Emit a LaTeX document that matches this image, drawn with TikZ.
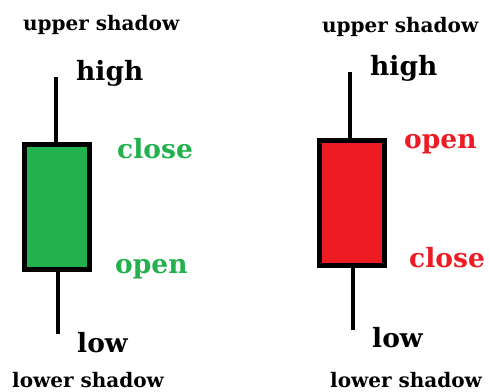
\documentclass[tikz,border=0pt]{standalone}
\usepackage{fontspec}
\setmainfont{DejaVu Serif}
\definecolor{bullgreen}{HTML}{22B14C}
\definecolor{bearred}{HTML}{ED1C24}
\begin{document}
\begin{tikzpicture}[x=1pt,y=-1pt,
  body/.style={rectangle,draw=black,line width=5pt,inner sep=0pt,
    minimum width=65pt,minimum height=125pt},
  wick/.style={line width=4.5pt,black},
  biglabel/.style={anchor=base west,inner sep=0pt,font=\fontsize{26.5}{28}\selectfont\bfseries},
  smalllabel/.style={anchor=base west,inner sep=0pt,font=\fontsize{20}{22}\selectfont\bfseries}]
\useasboundingbox[fill=white] (0,0) rectangle (489,391);

% bullish candle
\node[body,fill=bullgreen] (gbody) at (57,207) {};
\coordinate (ghigh) at (56,77);
\coordinate (glow) at (58,334);
\draw[wick] (ghigh) -- (ghigh |- gbody.north);
\draw[wick] (glow) -- (glow |- gbody.south);
\node[smalllabel] (gup) at (23,30) {upper shadow};
\node[biglabel] (ghi) at (76,80) {high};
\node[biglabel,text=bullgreen] (gclose) at (117,158) {close};
\node[biglabel,text=bullgreen] (gopen) at (115,273) {open};
\node[biglabel] (glo) at (77,352) {low};
\node[smalllabel] (gdown) at (12,387) {lower shadow};

% bearish candle
\node[body,fill=bearred] (rbody) at (352,203) {};
\coordinate (rhigh) at (350,72);
\coordinate (rlow) at (353,330);
\draw[wick] (rhigh) -- (rhigh |- rbody.north);
\draw[wick] (rlow) -- (rlow |- rbody.south);
\node[smalllabel] (rup) at (322,32) {upper shadow};
\node[biglabel] (rhi) at (370,75) {high};
\node[biglabel,text=bearred] (ropen) at (404,148) {open};
\node[biglabel,text=bearred] (rclose) at (409,267) {close};
\node[biglabel] (rlo) at (372,347) {low};
\node[smalllabel] (rdown) at (330,387) {lower shadow};
\end{tikzpicture}
\end{document}
